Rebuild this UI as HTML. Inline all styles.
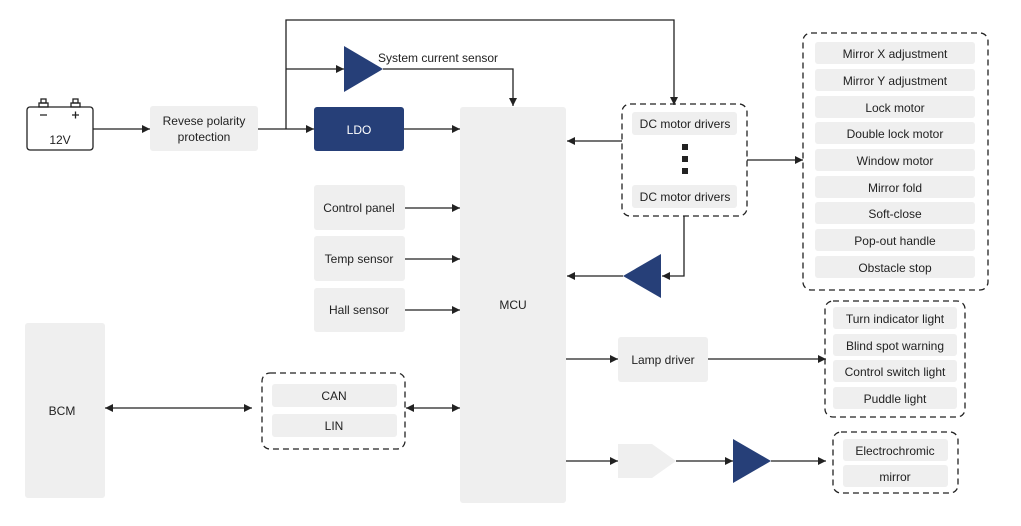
<!DOCTYPE html>
<html><head><meta charset="utf-8"><style>
html,body{margin:0;padding:0;background:#fff;}
svg{display:block;font-family:"Liberation Sans",sans-serif;}
text{fill:#222;font-size:12px;}
</style></head><body>
<svg width="1021" height="526" viewBox="0 0 1021 526" xmlns="http://www.w3.org/2000/svg">
<defs>
<marker id="a" viewBox="0 0 10 10" refX="10" refY="5" markerWidth="8" markerHeight="8" markerUnits="userSpaceOnUse" orient="auto-start-reverse"><path d="M0,0L10,5L0,10z" fill="#222"/></marker>
</defs>
<g stroke="#222" stroke-width="1.3" fill="none">
<rect x="27" y="107" width="66" height="43" rx="3" fill="#fff"/>
<rect x="41" y="99" width="5" height="4"/><rect x="39" y="103" width="9" height="4"/>
<rect x="73" y="99" width="5" height="4"/><rect x="71" y="103" width="9" height="4"/>
<path d="M40,115h7 M72,115h7 M75.5,111.5v7"/>
<line x1="93" y1="129" x2="150" y2="129" marker-end="url(#a)"/>
<line x1="258" y1="129" x2="314" y2="129" marker-end="url(#a)"/>
<polyline points="286,129 286,20 674,20 674,105" marker-end="url(#a)"/>
<line x1="286" y1="69" x2="344" y2="69" marker-end="url(#a)"/>
<polyline points="383,69 513,69 513,106" marker-end="url(#a)"/>
<line x1="404" y1="129" x2="460" y2="129" marker-end="url(#a)"/>
<line x1="405" y1="208" x2="460" y2="208" marker-end="url(#a)"/>
<line x1="405" y1="259" x2="460" y2="259" marker-end="url(#a)"/>
<line x1="405" y1="310" x2="460" y2="310" marker-end="url(#a)"/>
<line x1="105" y1="408" x2="252" y2="408" marker-start="url(#a)" marker-end="url(#a)"/>
<line x1="406" y1="408" x2="460" y2="408" marker-start="url(#a)" marker-end="url(#a)"/>
<line x1="622" y1="141" x2="567" y2="141" marker-end="url(#a)"/>
<line x1="747" y1="160" x2="803" y2="160" marker-end="url(#a)"/>
<polyline points="684,216 684,276 662,276" marker-end="url(#a)"/>
<line x1="623" y1="276" x2="567" y2="276" marker-end="url(#a)"/>
<line x1="566" y1="359" x2="618" y2="359" marker-end="url(#a)"/>
<line x1="708" y1="359" x2="826" y2="359" marker-end="url(#a)"/>
<line x1="566" y1="461" x2="618" y2="461" marker-end="url(#a)"/>
<line x1="676" y1="461" x2="733" y2="461" marker-end="url(#a)"/>
<line x1="771" y1="461" x2="826" y2="461" marker-end="url(#a)"/>
</g>
<g stroke="#222" stroke-width="1.3" fill="none" stroke-dasharray="6,4">
<rect x="262" y="373" width="143" height="76" rx="8"/>
<rect x="622" y="104" width="125" height="112" rx="8"/>
<rect x="803" y="33" width="185" height="257" rx="8"/>
<rect x="825" y="301" width="140" height="116" rx="8"/>
<rect x="833" y="432" width="125" height="61" rx="8"/>
</g>
<g fill="#efefef">
<rect x="150" y="106" width="108" height="45" rx="3"/>
<rect x="460" y="107" width="106" height="396" rx="3"/>
<rect x="314" y="185" width="91" height="45" rx="3"/>
<rect x="314" y="236" width="91" height="45" rx="3"/>
<rect x="314" y="288" width="91" height="44" rx="3"/>
<rect x="25" y="323" width="80" height="175" rx="3"/>
<rect x="272" y="384" width="125" height="23" rx="3"/>
<rect x="272" y="414" width="125" height="23" rx="3"/>
<rect x="632" y="112" width="105" height="23" rx="3"/>
<rect x="632" y="185" width="105" height="23" rx="3"/>
<rect x="618" y="337" width="90" height="45" rx="3"/>
<path d="M618,444h34l24,17l-24,17h-34z"/>
<rect x="815" y="42" width="160" height="22" rx="3"/>
<rect x="815" y="69" width="160" height="22" rx="3"/>
<rect x="815" y="96" width="160" height="22" rx="3"/>
<rect x="815" y="122" width="160" height="22" rx="3"/>
<rect x="815" y="149" width="160" height="22" rx="3"/>
<rect x="815" y="176" width="160" height="22" rx="3"/>
<rect x="815" y="202" width="160" height="22" rx="3"/>
<rect x="815" y="229" width="160" height="22" rx="3"/>
<rect x="815" y="256" width="160" height="22" rx="3"/>
<rect x="833" y="307" width="124" height="22" rx="3"/>
<rect x="833" y="334" width="124" height="22" rx="3"/>
<rect x="833" y="360" width="124" height="22" rx="3"/>
<rect x="833" y="387" width="124" height="22" rx="3"/>
<rect x="843" y="439" width="105" height="22" rx="3"/>
<rect x="843" y="465" width="105" height="22" rx="3"/>
</g>
<rect x="314" y="107" width="90" height="44" rx="3" fill="#263f78"/>
<g fill="#263f78">
<path d="M344,46L383,69L344,92z"/>
<path d="M661,254L623,276L661,298z"/>
<path d="M733,439L771,461L733,483z"/>
</g>
<g fill="#222"><rect x="682" y="144" width="6" height="6"/><rect x="682" y="156" width="6" height="6"/><rect x="682" y="168" width="6" height="6"/></g>
<g text-anchor="middle">
<text x="60" y="144" font-size="13">12V</text>
<text x="204" y="125">Revese polarity</text>
<text x="204" y="141">protection</text>
<text x="359" y="134" style="fill:#fff">LDO</text>
<text x="513" y="309">MCU</text>
<text x="359" y="212">Control panel</text>
<text x="359" y="263">Temp sensor</text>
<text x="359" y="314">Hall sensor</text>
<text x="62" y="415">BCM</text>
<text x="334" y="400">CAN</text>
<text x="334" y="430">LIN</text>
<text x="685" y="128">DC motor drivers</text>
<text x="685" y="201">DC motor drivers</text>
<text x="663" y="364">Lamp driver</text>
<text x="895" y="58">Mirror X adjustment</text>
<text x="895" y="85">Mirror Y adjustment</text>
<text x="895" y="112">Lock motor</text>
<text x="895" y="138">Double lock motor</text>
<text x="895" y="165">Window motor</text>
<text x="895" y="192">Mirror fold</text>
<text x="895" y="218">Soft-close</text>
<text x="895" y="245">Pop-out handle</text>
<text x="895" y="272">Obstacle stop</text>
<text x="895" y="323">Turn indicator light</text>
<text x="895" y="350">Blind spot warning</text>
<text x="895" y="376">Control switch light</text>
<text x="895" y="403">Puddle light</text>
<text x="895" y="455">Electrochromic</text>
<text x="895" y="481">mirror</text>
</g>
<text x="378" y="62" font-size="12.5">System current sensor</text>
</svg>
</body></html>
